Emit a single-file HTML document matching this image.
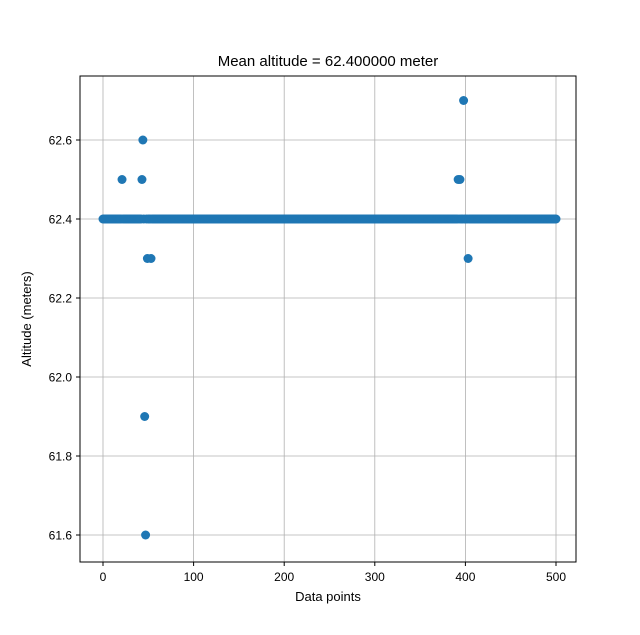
<!DOCTYPE html>
<html><head><meta charset="utf-8"><style>
body{margin:0;background:#fff}
svg text{font-family:"Liberation Sans","DejaVu Sans",sans-serif;fill:#000}
</style></head><body>
<svg id="chart" width="640" height="630" xmlns="http://www.w3.org/2000/svg">
<rect x="0" y="0" width="640" height="630" fill="#fff"/>
<g id="grid"></g>
<g id="pts"></g>
<rect x="80" y="76" width="496" height="486" fill="none" stroke="#000" stroke-width="1"/>
<g id="ticks"></g>
<text x="328" y="66" font-size="15" text-anchor="middle">Mean altitude = 62.400000 meter</text>
<text x="328" y="601" font-size="13" text-anchor="middle">Data points</text>
<text x="31" y="319" font-size="13" text-anchor="middle" transform="rotate(-90 31 319)">Altitude (meters)</text>
</svg>
<script>
const baseAltitude = 62.4;
const pointCount = 501;
const outlierIndices = [21, 43, 44, 46, 47, 49, 53, 392, 394, 398, 403];
const outlierValues = [62.5, 62.5, 62.6, 61.9, 61.6, 62.3, 62.3, 62.5, 62.5, 62.7, 62.3];
const xTicks = [0, 100, 200, 300, 400, 500];
const yTicks = [61.6, 61.8, 62.0, 62.2, 62.4, 62.6];

const altitudes = [];
for (let i = 0; i < pointCount; i++) altitudes.push(baseAltitude);
outlierIndices.forEach((idx, k) => { altitudes[idx] = outlierValues[k]; });

const X0 = 103, XS = (556 - 103) / 500;
const Y0 = 219, YS = (219 - 140) / 0.2;
const sx = v => X0 + v * XS;
const sy = v => Y0 - (v - 62.4) * YS;
const NS = "http://www.w3.org/2000/svg";
const grid = document.getElementById('grid'), ticks = document.getElementById('ticks'), pts = document.getElementById('pts');
function mk(tag, attrs, parent){const e=document.createElementNS(NS,tag);for(const k in attrs)e.setAttribute(k,attrs[k]);parent.appendChild(e);return e;}

xTicks.forEach(t => {
  const x = sx(t);
  const g = mk('line',{x1:x,x2:x,y1:76,y2:562,stroke:'#b0b0b0','stroke-width':0.8},grid);
  
  
  mk('line',{x1:x,x2:x,y1:562,y2:566,stroke:'#000'},ticks);
  const tx = mk('text',{x:x,y:581,'font-size':12,'text-anchor':'middle'},ticks);
  tx.textContent = t;
  
  
});
yTicks.forEach(t => {
  const y = sy(t);
  const g = mk('line',{x1:80,x2:576,y1:y,y2:y,stroke:'#b0b0b0','stroke-width':0.8},grid);
  
  
  mk('line',{x1:76,x2:80,y1:y,y2:y,stroke:'#000'},ticks);
  const tx = mk('text',{x:72,y:y+4.5,'font-size':12,'text-anchor':'end'},ticks);
  tx.textContent = t.toFixed(1);
  
  
});
altitudes.forEach((v, i) => {
  const c = mk('circle',{cx:sx(i),cy:sy(v),r:4.5,fill:'#1f77b4'},pts);
  
  
});
</script>
</body></html>
